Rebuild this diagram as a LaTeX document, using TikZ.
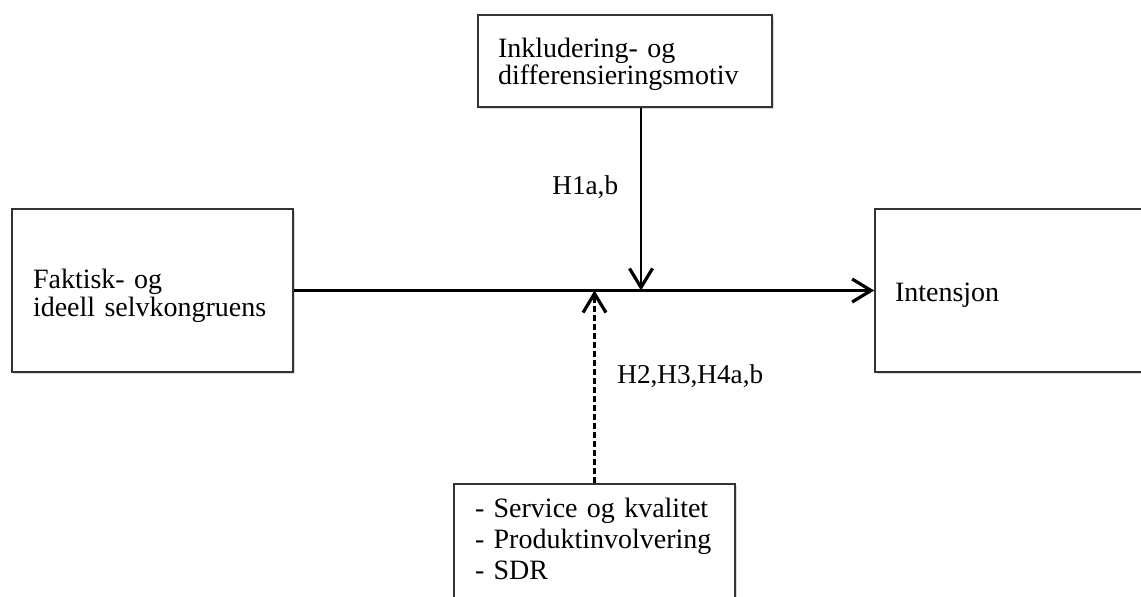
\documentclass[tikz,border=0pt]{standalone}
\usepackage{fontspec}
\setmainfont{Liberation Serif}
\usetikzlibrary{arrows.meta,shadows}

\tikzset{
  box/.style={draw=black!80, line width=0.8pt, fill=white, rectangle, align=left,
    drop shadow={shadow xshift=0.9pt, shadow yshift=-0.9pt, opacity=0.3},
    font=\fontsize{14}{13.5}\selectfont, inner ysep=0pt},
  link/.style={line width=1.1pt, -{Straight Barb[length=9.5pt,width=11.5pt,line width=1.6pt]}},
  hyp/.style={font=\fontsize{13.6}{14}\selectfont, anchor=base west, inner sep=0pt}
}

\begin{document}
\begin{tikzpicture}[x=0.5pt,y=-0.5pt]
		\useasboundingbox (0,0) rectangle (1141,596);
		\clip (0,0) rectangle (1141,596);
		% boxes
		\node[box, minimum width=147pt, minimum height=46pt, inner xsep=10pt, text width=127pt, text height=13pt] (motiv) at (625,61)
			{Inkludering- og\\differensieringsmotiv};
		\node[box, minimum width=140.5pt, minimum height=81.5pt, inner xsep=10.5pt, text width=119.5pt, text height=15pt,
			font=\fontsize{14}{14}\selectfont] (kongruens) at (152.5,290.5)
			{Faktisk- og\\ideell selvkongruens};
		\node[box, minimum width=142.5pt, minimum height=81.5pt, inner xsep=10pt, text width=122.5pt, text height=14pt] (intensjon) at (1017.5,290.5)
			{Intensjon};
		\node[box, anchor=north, minimum width=140.5pt, inner xsep=10.5pt, inner ysep=7pt, text width=119.5pt, text depth=60pt,
			font=\fontsize{14}{15.5}\selectfont] (moderator) at (594.5,483)
			{- Service og kvalitet\\- Produktinvolvering\\- SDR};
		% connectors
		\coordinate (hit1) at (641,290.5);
		\coordinate (hit2) at (594.5,290.5);
		\draw[link] (kongruens.east) -- (intensjon.west);
		\draw[link] (motiv.south -| hit1) -- (hit1);
		\draw[link, dash pattern=on 3pt off 1.5pt] (moderator.north -| hit2) -- (hit2);
		% labels
		\node[hyp] (h1) at (552,194) {H1a,b};
		\node[hyp] (h2) at (617,383) {H2,H3,H4a,b};
\end{tikzpicture}
\end{document}
